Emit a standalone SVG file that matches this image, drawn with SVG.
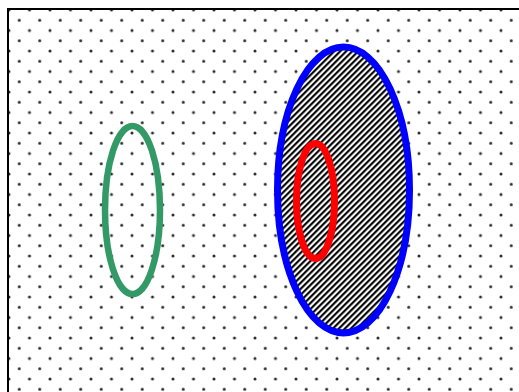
<svg xmlns="http://www.w3.org/2000/svg" width="519" height="392" viewBox="0 0 519 392">
  <style>
    .ell { fill: none; }
    .dot { fill: #2a2a2a; }
  </style>
  <defs>
    <pattern id="dots" patternUnits="userSpaceOnUse" x="9" y="10" width="20.5" height="20.5">
      <rect width="20.5" height="20.5" fill="#fff"/>
      <circle cx="0" cy="0" r="1.5" class="dot"/>
      <circle cx="20.5" cy="0" r="1.5" class="dot"/>
      <circle cx="0" cy="20.5" r="1.5" class="dot"/>
      <circle cx="20.5" cy="20.5" r="1.5" class="dot"/>
      <circle cx="10.25" cy="10.25" r="1.5" class="dot"/>
    </pattern>
    <pattern id="hatch" patternUnits="userSpaceOnUse" width="4.2426" height="4.2426" patternTransform="rotate(45)">
      <rect width="4.2426" height="4.2426" fill="#fff"/>
      <rect width="2.1213" height="4.2426" fill="#000"/>
    </pattern>
  </defs>
  <rect x="0" y="0" width="519" height="392" fill="#fff"/>
  <g id="frame">
    <rect x="8" y="9" width="530" height="400" fill="url(#dots)" stroke="#000" stroke-width="2"/>
  </g>
  <g id="green">
    <ellipse cx="132.5" cy="210" rx="27.5" ry="84" class="ell" stroke="#339966" stroke-width="6.5"/>
  </g>
  <g id="blue">
    <ellipse cx="343.5" cy="190" rx="66" ry="143" fill="url(#hatch)" stroke="#0000ff" stroke-width="7"/>
  </g>
  <g id="red">
    <ellipse cx="315.5" cy="201" rx="19" ry="57.5" class="ell" stroke="#ff0000" stroke-width="7"/>
  </g>
</svg>
